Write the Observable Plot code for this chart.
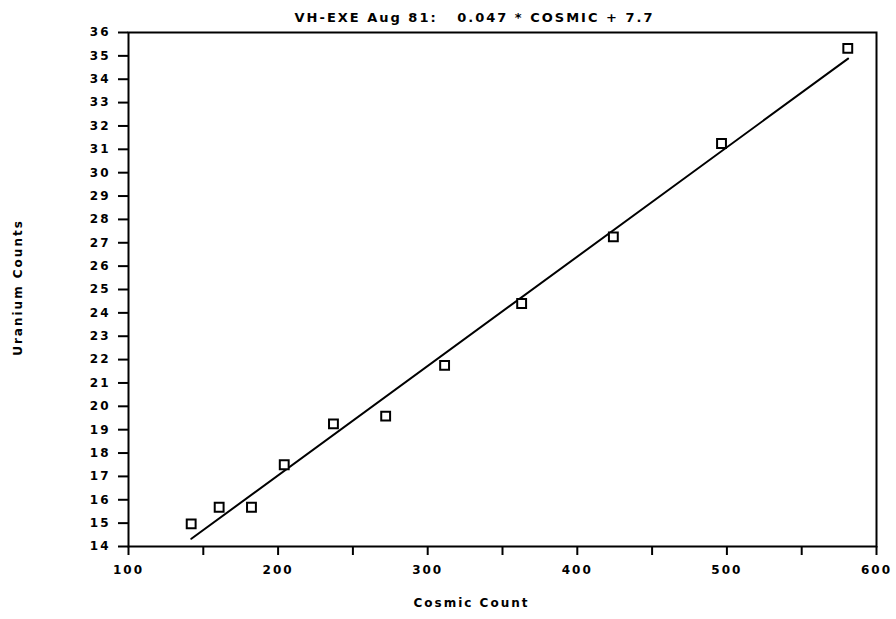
<!DOCTYPE html>
<html>
<head>
<meta charset="utf-8">
<script src="https://cdn.jsdelivr.net/npm/d3@7"></script>
<script src="https://cdn.jsdelivr.net/npm/@observablehq/plot@0.6"></script>
<style>
  html, body { margin: 0; padding: 0; background: #fff; }
  svg text { white-space: pre; }
</style>
</head>
<body>
<div id="chart"></div>
<script>
// Data
const cosmic  = [141.9, 160.6, 182.2, 204.1, 237.0, 271.9, 311.3, 362.8, 424.1, 496.4, 580.8];
const uranium = [14.97, 15.68, 15.68, 17.50, 19.25, 19.58, 21.75, 24.40, 27.25, 31.25, 35.32];
// Fitted line endpoints (0.047 * COSMIC + 7.7)
const fitX = [142, 581];
const fitY = [14.33, 34.88];
const yTicks = d3.range(14, 37);
const xTicks = [100, 150, 200, 250, 300, 350, 400, 450, 500, 550, 600];
const xLabels = [100, 200, 300, 400, 500, 600];
const titleText = "VH-EXE Aug 81:\u00a0\u00a0 0.047 * COSMIC + 7.7";
const xTitle = "Cosmic Count";
const yTitle = "Uranium Counts";

const points = cosmic.map((c, i) => ({cosmic: c, uranium: uranium[i]}));
const fit = fitX.map((c, i) => ({cosmic: c, uranium: fitY[i]}));

const chart = Plot.plot({
  width: 896,
  height: 619,
  marginLeft: 128,
  marginRight: 20,
  marginTop: 32,
  marginBottom: 73,
  style: {fontFamily: "DejaVu Sans", fontWeight: "bold", fontSize: "12px", letterSpacing: "2px", color: "#000", background: "#fff"},
  x: {domain: [100, 600]},
  y: {domain: [14, 36]},
  marks: [
    Plot.frame({stroke: "#000", strokeWidth: 2}),
    Plot.axisY({ticks: yTicks, tickSize: 10, tickPadding: 8, strokeWidth: 2, label: null, tickFormat: d => String(d)}),
    Plot.axisX({ticks: xTicks, tickSize: 9, tickPadding: 10, strokeWidth: 2, label: null,
      tickFormat: d => xLabels.includes(d) ? String(d) : ""}),
    Plot.line(fit, {x: "cosmic", y: "uranium", stroke: "#000", strokeWidth: 2}),
    Plot.dot(points, {x: "cosmic", y: "uranium", symbol: "square", r: 5, stroke: "#000", fill: "#fff", strokeWidth: 2}),
    Plot.text([titleText], {frameAnchor: "top", dx: -28, dy: -20, text: d => d, fontSize: 13, letterSpacing: 3.6}),
    Plot.text([xTitle], {frameAnchor: "bottom", dx: -31, dy: 60, text: d => d, fontSize: 12, letterSpacing: 3.2}),
    Plot.text([yTitle], {frameAnchor: "left", textAnchor: "middle", dx: -110, dy: -2, rotate: -90, text: d => d, fontSize: 12, letterSpacing: 3.6})
  ]
});
document.getElementById("chart").appendChild(chart);
</script>
</body>
</html>
